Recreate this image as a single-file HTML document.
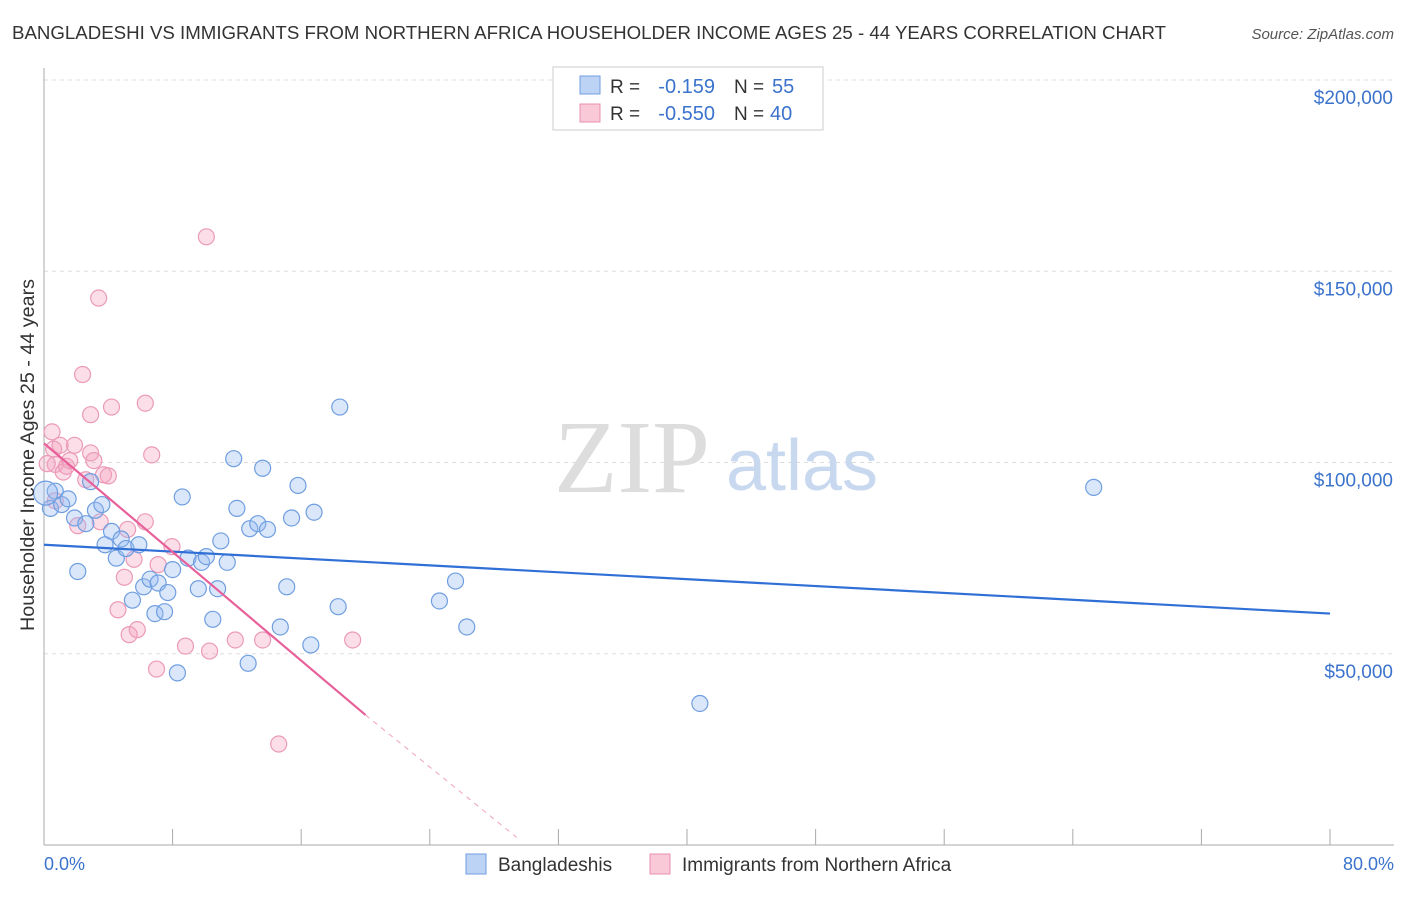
<!DOCTYPE html>
<html><head><meta charset="utf-8"><style>
body{margin:0;background:#fff;font-family:"Liberation Sans",sans-serif;}
svg text{font-family:"Liberation Sans",sans-serif;}
</style></head><body>
<svg id="chart" width="1406" height="892">
<text x="12" y="39" font-size="18" fill="#333" textLength="1154" lengthAdjust="spacingAndGlyphs">BANGLADESHI VS IMMIGRANTS FROM NORTHERN AFRICA HOUSEHOLDER INCOME AGES 25 - 44 YEARS CORRELATION CHART</text>
<text x="1394" y="39" font-size="15" fill="#555" font-style="italic" text-anchor="end">Source: ZipAtlas.com</text>
<g id="grid"></g>
<text x="632" y="492" font-size="104" fill="#ddd" style="font-family:'Liberation Serif',serif" text-anchor="middle">ZIP</text>
<text x="802" y="490" font-size="72" fill="#c8d8ef" text-anchor="middle">atlas</text>
<g id="pts"></g>
<g id="lines"></g>
<text transform="translate(34,455) rotate(-90)" font-size="19" fill="#333" text-anchor="middle" textLength="352" lengthAdjust="spacingAndGlyphs">Householder Income Ages 25 - 44 years</text>
<text x="44" y="870" font-size="18" fill="#3b73cc">0.0%</text>
<text x="1394" y="870" font-size="18" fill="#3b73cc" text-anchor="end">80.0%</text>
<g>
<rect x="553" y="67" width="270" height="63" fill="#fff" stroke="#ccc"/>
<rect x="580" y="76" width="20" height="18" fill="#bcd3f5" stroke="#6f9ee0"/>
<rect x="580" y="104" width="20" height="18" fill="#f9c9d8" stroke="#e890b0"/>
<text x="610" y="93" font-size="19" fill="#333">R =</text>
<text x="715" y="93" font-size="20" fill="#3b73cc" text-anchor="end">-0.159</text>
<text x="734" y="93" font-size="19" fill="#333">N =</text>
<text x="772" y="93" font-size="20" fill="#3b73cc">55</text>
<text x="610" y="120" font-size="19" fill="#333">R =</text>
<text x="715" y="120" font-size="20" fill="#3b73cc" text-anchor="end">-0.550</text>
<text x="734" y="120" font-size="19" fill="#333">N =</text>
<text x="770" y="120" font-size="20" fill="#3b73cc">40</text>
</g>
<g>
<rect x="466" y="854" width="20" height="20" fill="#bcd3f5" stroke="#6f9ee0"/>
<text x="498" y="871" font-size="19" fill="#333">Bangladeshis</text>
<rect x="650" y="854" width="20" height="20" fill="#f9c9d8" stroke="#e890b0"/>
<text x="682" y="871" font-size="19" fill="#333">Immigrants from Northern Africa</text>
</g>
</svg>
<script>
const yTicks=[50000,100000,150000,200000];
const yTickLabels=["$50,000","$100,000","$150,000","$200,000"];
const blueX=[0.4,0.7,1.1,1.5,1.9,2.1,2.6,2.9,3.2,3.6,3.8,4.2,4.5,4.8,5.1,5.5,5.9,6.2,6.6,6.9,7.1,7.5,7.7,8.0,8.3,8.6,8.96,9.6,9.8,10.1,10.5,10.8,11.0,11.4,11.8,12.0,12.7,12.8,13.3,13.6,13.9,14.7,15.1,15.4,15.8,16.6,16.8,18.3,18.4,24.6,25.6,26.3,40.8,65.3,0.1];
const blueY=[88000,92500,89000,90500,85500,71500,84000,95000,87500,89000,78500,82000,75000,80000,77500,64000,78500,67500,69500,60500,68500,61000,66000,72000,45000,91000,75000,67000,73900,75400,59000,67000,79500,73900,101000,88000,47500,82700,84000,98500,82500,57000,67500,85500,94000,52300,87000,62300,114500,63800,69000,57000,37000,93500,92000];
const pinkX=[0.5,0.6,0.7,1.0,1.2,1.4,1.6,1.9,2.1,2.4,2.6,2.9,2.9,3.1,3.4,3.5,3.7,4.0,4.2,4.6,5.0,5.2,5.3,5.6,5.8,6.3,6.7,6.3,7.0,7.1,7.96,8.8,10.1,10.3,11.9,13.6,14.6,19.2,0.2,0.7];
const pinkY=[108000,103500,99500,104500,97500,99000,100500,104500,83500,123000,95500,112500,102500,100500,143000,84500,96800,96500,114500,61500,70000,82500,55000,74700,56300,115500,102000,84500,46000,73300,78000,52000,159000,50700,53600,53600,26400,53600,99700,90000];
const blueLine=[0,78500,80,60500];
const pinkLine=[0,105000,20,34000,29.4,2000];
const L=44,R=1330,T=80,B=845;
const xs=v=>L+v/80*(R-L);
const ys=v=>B-v/200000*(B-T);
const NS="http://www.w3.org/2000/svg";
function mk(t,a,p){const e=document.createElementNS(NS,t);for(const k in a)e.setAttribute(k,a[k]);p.appendChild(e);return e;}
const grid=document.getElementById('grid');
yTicks.forEach((v,i)=>{
 const g=mk('line',{x1:L,x2:1394,y1:ys(v),y2:ys(v),stroke:'#ddd','stroke-dasharray':'4,4'},grid);
 
 
 const t=mk('text',{x:1393,y:ys(v)+24,'font-size':19,fill:'#3b73cc','text-anchor':'end'},grid);
 t.textContent=yTickLabels[i];
 
 
});
const ax=mk('line',{x1:L,x2:L,y1:68,y2:B,stroke:'#aaa'},grid);


const bx=mk('line',{x1:L,x2:1394,y1:B,y2:B,stroke:'#aaa'},grid);


for(let i=0;i<=10;i++){const t=mk('line',{x1:xs(i*8),x2:xs(i*8),y1:B,y2:B-16,stroke:'#aaa'},grid);
 
 }
const pts=document.getElementById('pts');
pinkX.forEach((x,i)=>{const c=mk('circle',{cx:xs(x),cy:ys(pinkY[i]),r:8,fill:'rgba(244,160,190,0.35)',stroke:'#ec9ab8','stroke-width':1.2},pts);
 
 });
blueX.forEach((x,i)=>{const c=mk('circle',{cx:xs(x),cy:ys(blueY[i]),r:i==54?12:8,fill:'rgba(150,185,240,0.35)',stroke:'#6f9ee0','stroke-width':1.2},pts);
 
 });
const lines=document.getElementById('lines');
const bl=mk('line',{x1:xs(blueLine[0]),y1:ys(blueLine[1]),x2:xs(blueLine[2]),y2:ys(blueLine[3]),stroke:'#2f6fd6','stroke-width':2.2},lines);


const pl=mk('line',{x1:xs(pinkLine[0]),y1:ys(pinkLine[1]),x2:xs(pinkLine[2]),y2:ys(pinkLine[3]),stroke:'#e8609a','stroke-width':2.2},lines);


const pd=mk('line',{x1:xs(pinkLine[2]),y1:ys(pinkLine[3]),x2:xs(pinkLine[4]),y2:ys(pinkLine[5]),stroke:'#f0a0c0','stroke-width':1,'stroke-dasharray':'5,5'},lines);


</script>
</body></html>
